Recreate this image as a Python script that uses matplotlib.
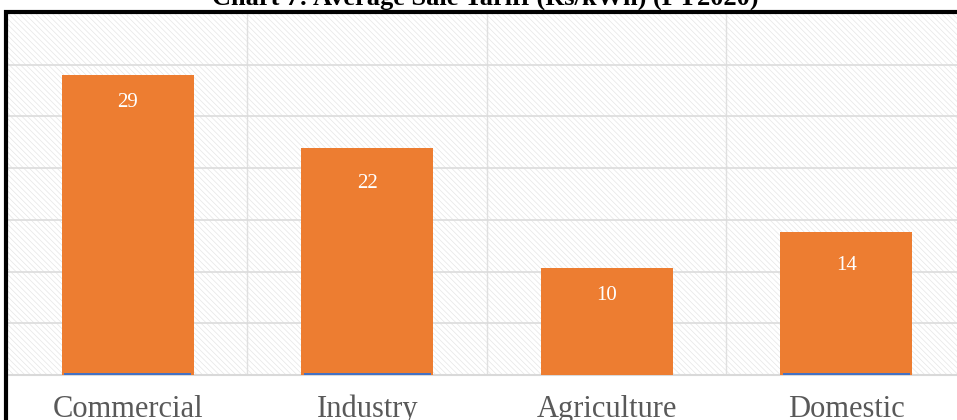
import matplotlib
matplotlib.use("Agg")
import matplotlib.pyplot as plt
from matplotlib.patches import Rectangle

# data
categories = ["Commercial", "Industry", "Agriculture", "Domestic"]
tariff = [29.0, 21.9, 10.3, 13.8]
other = [0.2, 0.2, 0.0, 0.2]   # thin blue series at the bar bottoms
title = "Chart 7: Average Sale Tariff (Rs/kWh) (FY2020)"

# how far below each bar top its value label sits (pixels)
label_drop = [27, 35, 27, 33]

plt.rcParams["font.family"] = ["Liberation Serif", "DejaVu Serif"]
plt.rcParams["hatch.linewidth"] = 0.5

W, H = 957, 420
fig = plt.figure(figsize=(W / 100, H / 100), dpi=100)
ax = fig.add_axes([8 / W, 45 / H, (966 - 8) / W, (375 - 13) / H])

# hatched plot background
ax.set_facecolor("white")
ax.add_patch(Rectangle((0, 0), 1, 1, transform=ax.transAxes, facecolor="white",
                       edgecolor="#e6e6e6", hatch="\\\\\\\\\\\\", lw=0, zorder=0))

x = list(range(len(categories)))
bars = ax.bar(x, tariff, width=0.55, color="#ED7D31", zorder=3)
ax.bar(x, other, width=0.53, color="#4472C4", zorder=4)

for b, v, d in zip(bars, tariff, label_drop):
    ax.annotate(f"{v:.0f}", (b.get_x() + b.get_width() / 2, v), xytext=(0, -d),
                textcoords="offset pixels", ha="center", va="center",
                color="white", fontsize=15, zorder=5)

# category names below the axis, baseline ~42 px under it
for i, c in zip(x, categories):
    ax.annotate(c, (i, 0), xycoords=("data", "axes fraction"), xytext=(0, -42),
                textcoords="offset pixels", ha="center", va="baseline",
                fontsize=22, color="#595959", annotation_clip=False)

ax.set_xlim(-0.5, 3.5)
ax.set_ylim(0, 35)
ax.set_yticks(range(5, 35, 5))
ax.set_xticks(x)
ax.set_xticks([0.5, 1.5, 2.5], minor=True)
ax.tick_params(axis="x", which="both", length=0, labelbottom=False)
ax.tick_params(axis="y", length=0, labelleft=False)
ax.grid(axis="y", color="#dcdcdc", lw=1.2, zorder=1)
ax.grid(axis="x", which="minor", color="#e0e0e0", lw=1.0, zorder=1)
for s in ["top", "right", "left"]:
    ax.spines[s].set_visible(False)
ax.spines["bottom"].set_color("#d9d9d9")
ax.spines["bottom"].set_linewidth(1.5)

# thick black frame around the chart (runs off the right and bottom)
fig.add_artist(Rectangle((6 / W, -0.2), 2, 1.2 - 11.5 / H, transform=fig.transFigure,
                         fill=False, edgecolor="black", lw=3))

fig.text(485 / W, 1 - 5 / H, title, ha="center", va="baseline",
         fontsize=19, fontweight="bold", color="black")

fig.savefig("out.png", dpi=100)
